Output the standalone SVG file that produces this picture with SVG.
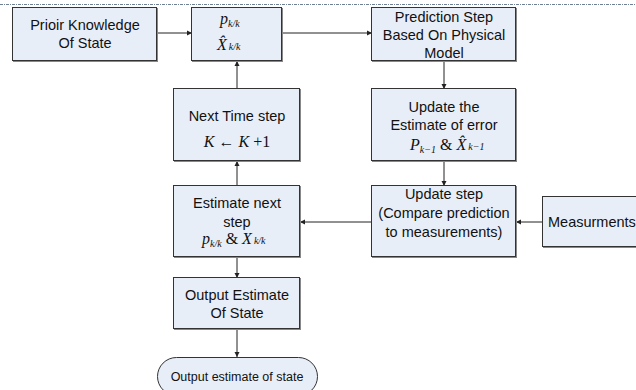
<svg xmlns="http://www.w3.org/2000/svg" width="636" height="390" viewBox="0 0 636 390">
<style>
.box{fill:#e8eef8;stroke:#333;stroke-width:1}
.sh{fill:none;stroke:#888;stroke-width:1}
.t{font-family:"Liberation Sans",Arial,sans-serif;font-size:14.5px;fill:#111;text-anchor:middle}
.ts{text-anchor:start}
.m{font-family:"Liberation Serif","Times New Roman",serif;font-style:italic;font-size:16px;fill:#111}
.s{font-size:10px}
.n{font-style:normal}
.c{stroke:#222;stroke-width:1;fill:none;marker-end:url(#ah)}
</style>
<defs>
<marker id="ah" markerWidth="6" markerHeight="6" refX="5" refY="3" orient="auto" markerUnits="userSpaceOnUse">
<path d="M0,0.5 L5,3 L0,5.5 Z" fill="#222"/>
</marker>
</defs>
<rect width="636" height="390" fill="#fff"/>
<line x1="0" y1="4.5" x2="636" y2="4.5" stroke="#6f7f96" stroke-width="1" stroke-dasharray="3,1,1,1"/>
<g id="connectors">
<line class="c" x1="157" y1="33" x2="192" y2="33"/>
<line class="c" x1="282" y1="33" x2="372" y2="33"/>
<line class="c" x1="444" y1="61" x2="444" y2="89"/>
<line class="c" x1="444" y1="161" x2="444" y2="186"/>
<line class="c" x1="542" y1="222" x2="516" y2="222"/>
<line class="c" x1="372" y1="222" x2="300" y2="222"/>
<line class="c" x1="237" y1="186" x2="237" y2="161"/>
<line class="c" x1="237" y1="89" x2="237" y2="61"/>
<line class="c" x1="237" y1="257" x2="237" y2="278"/>
<line class="c" x1="237" y1="329" x2="237" y2="357"/>
</g>
<g id="prior">
<rect class="sh" x="13.5" y="8.5" width="144" height="53"/>
<rect class="box" x="12.5" y="7.5" width="144" height="53"/>
<text class="t" x="85" y="30">Prioir Knowledge</text>
<text class="t" x="85" y="48">Of State</text>
</g>
<g id="state">
<rect class="sh" x="192.5" y="8.5" width="90" height="53"/>
<rect class="box" x="191.5" y="7.5" width="90" height="53"/>
<text class="m" x="220" y="24">p<tspan class="s" dy="3">k/k</tspan></text>
<text class="m" x="217" y="50">X̂<tspan class="s" dx="2">k/k</tspan></text>
</g>
<g id="prediction">
<rect class="sh" x="372.5" y="8.5" width="144" height="53"/>
<rect class="box" x="371.5" y="7.5" width="144" height="53"/>
<text class="t" x="444" y="22">Prediction Step</text>
<text class="t" x="444" y="40">Based On Physical</text>
<text class="t" x="444" y="58">Model</text>
</g>
<g id="update-error">
<rect class="sh" x="372.5" y="89.5" width="144" height="72"/>
<rect class="box" x="371.5" y="88.5" width="144" height="72"/>
<text class="t" x="444" y="112">Update the</text>
<text class="t" x="444" y="130">Estimate of error</text>
<text class="m" x="410" y="150">P<tspan class="s" dy="3">k−1</tspan><tspan class="n" dy="-3"> &amp; </tspan>X̂<tspan class="s" dx="2">k−1</tspan></text>
</g>
<g id="update-step">
<rect class="sh" x="372.5" y="186.5" width="144" height="71"/>
<rect class="box" x="371.5" y="185.5" width="144" height="71"/>
<text class="t" x="444" y="199">Update step</text>
<text class="t" x="444" y="218">(Compare prediction</text>
<text class="t" x="444" y="237">to measurements)</text>
</g>
<g id="measurements">
<rect class="sh" x="543.5" y="197.5" width="100" height="50"/>
<rect class="box" x="542.5" y="196.5" width="100" height="50"/>
<text class="t ts" x="548" y="227">Measurments</text>
</g>
<g id="estimate-next">
<rect class="sh" x="174.5" y="186.5" width="126" height="71"/>
<rect class="box" x="173.5" y="185.5" width="126" height="71"/>
<text class="t" x="237" y="208">Estimate next</text>
<text class="t" x="237" y="227">step</text>
<text class="m" x="202" y="244">p<tspan class="s" dy="3">k/k</tspan><tspan class="n" dy="-3"> &amp; </tspan>X<tspan class="s" dx="2">k/k</tspan></text>
</g>
<g id="next-time">
<rect class="sh" x="174.5" y="89.5" width="126" height="72"/>
<rect class="box" x="173.5" y="88.5" width="126" height="72"/>
<text class="t" x="237" y="121">Next Time step</text>
<text class="m" x="237" y="147" text-anchor="middle">K <tspan class="n">←</tspan> K <tspan class="n">+1</tspan></text>
</g>
<g id="output-box">
<rect class="sh" x="174.5" y="278.5" width="126" height="51"/>
<rect class="box" x="173.5" y="277.5" width="126" height="51"/>
<text class="t" x="237" y="300">Output Estimate</text>
<text class="t" x="237" y="318">Of State</text>
</g>
<g id="terminal">
<rect x="157.5" y="357.5" width="160" height="38" rx="19" ry="19" fill="#e8eef8" stroke="#333"/>
<text class="t" x="237" y="381" style="font-size:12.5px">Output estimate of state</text>
</g>
</svg>
